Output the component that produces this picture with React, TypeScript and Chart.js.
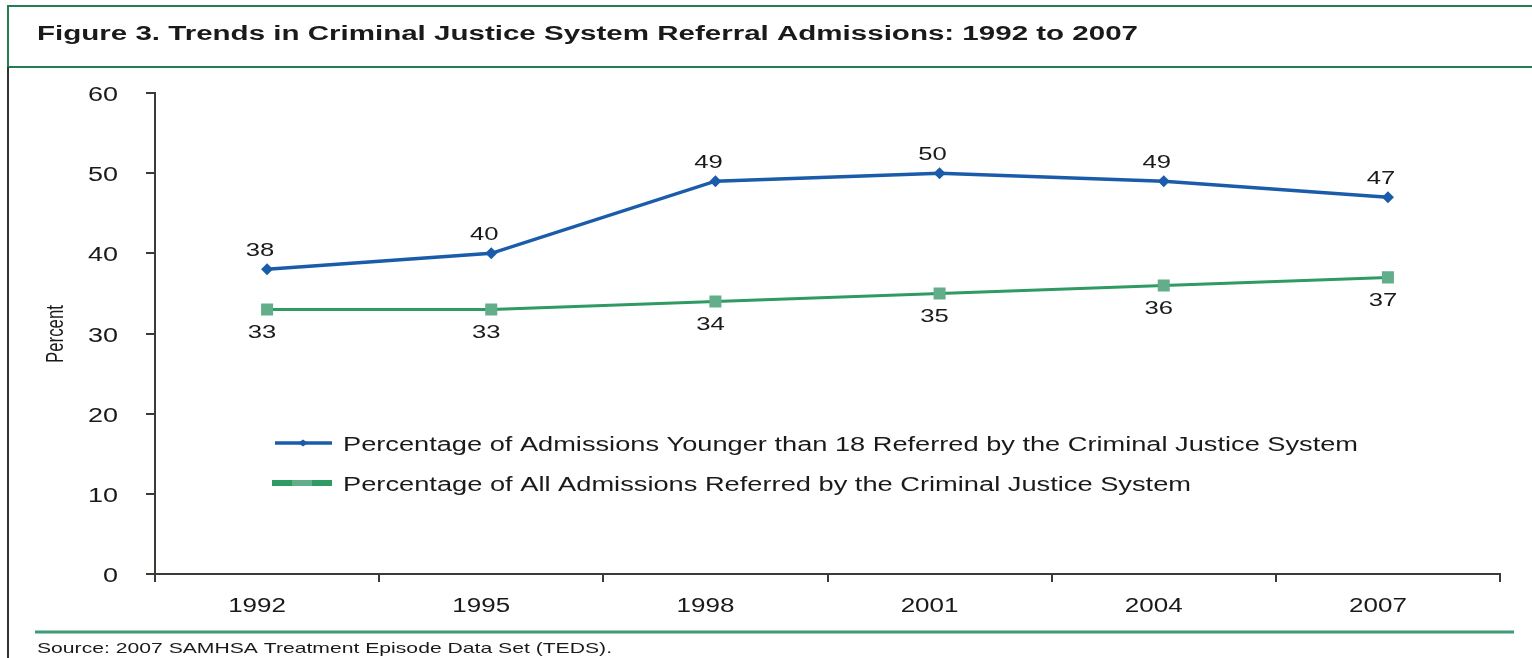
import React, { useEffect, useRef } from "react";
import { Chart, registerables } from "chart.js";

Chart.register(...registerables);

const categories = ["1992", "1995", "1998", "2001", "2004", "2007"];
const youngerValues = [38, 40, 49, 50, 49, 47];
const allValues = [33, 33, 34, 35, 36, 37];
const yTicks = [0, 10, 20, 30, 40, 50, 60];
const seriesNames = [
  "Percentage of Admissions Younger than 18 Referred by the Criminal Justice System",
  "Percentage of All Admissions Referred by the Criminal Justice System",
];
const titleText = "Figure 3. Trends in Criminal Justice System Referral Admissions: 1992 to 2007";
const sourceText = "Source: 2007 SAMHSA Treatment Episode Data Set (TEDS).";
const yAxisTitle = "Percent";

const BLUE = "#1a5ca9";
const GREEN = "#2f9a62";
const GREEN_LIGHT = "#62ad8a";
const FRAME_GREEN = "#237e52";
const TEXT = "#1a1a1a";
const AXIS = "#3a3a36";
const FONT = "'Liberation Sans', Arial, Helvetica, sans-serif";

function drawText(
  ctx: CanvasRenderingContext2D,
  text: string,
  x: number,
  y: number,
  font: string,
  align: CanvasTextAlign,
  sx: number,
  color = TEXT
) {
  ctx.save();
  ctx.font = font;
  ctx.fillStyle = color;
  ctx.textAlign = align;
  ctx.textBaseline = "alphabetic";
  ctx.translate(x, y);
  ctx.scale(sx, 1);
  ctx.fillText(text, 0, 0);
  ctx.restore();
}

function fitText(
  ctx: CanvasRenderingContext2D,
  text: string,
  x: number,
  y: number,
  font: string,
  width: number,
  color = TEXT
) {
  ctx.save();
  ctx.font = font;
  const w = ctx.measureText(text).width;
  ctx.restore();
  drawText(ctx, text, x, y, font, "left", width / w, color);
}

const decorPlugin = {
  id: "decor",
  afterDraw(chart: any) {
    const ctx: CanvasRenderingContext2D = chart.ctx;
    const xs = chart.scales.x;
    const ys = chart.scales.y;
    ctx.save();
    // frame
    ctx.lineWidth = 2;
    ctx.strokeStyle = FRAME_GREEN;
    ctx.beginPath();
    ctx.moveTo(8, 6);
    ctx.lineTo(1532, 6);
    ctx.moveTo(8, 67);
    ctx.lineTo(1532, 67);
    ctx.moveTo(8, 5);
    ctx.lineTo(8, 67);
    ctx.stroke();
    ctx.strokeStyle = "#333333";
    ctx.beginPath();
    ctx.moveTo(8, 67);
    ctx.lineTo(8, 658);
    ctx.stroke();
    ctx.strokeStyle = "#3f9a76";
    ctx.lineWidth = 3;
    ctx.beginPath();
    ctx.moveTo(35, 632);
    ctx.lineTo(1514, 632);
    ctx.stroke();

    // title & source
    fitText(ctx, titleText, 37, 40, `bold 20px ${FONT}`, 1101);
    fitText(ctx, sourceText, 37, 653, `15px ${FONT}`, 575);

    // y tick labels
    yTicks.forEach((v) => {
      const py = ys.getPixelForValue(v);
      drawText(ctx, String(v), 118, py + 8, `20px ${FONT}`, "right", 1.35);
    });
    // x tick labels
    categories.forEach((c, i) => {
      const px = xs.getPixelForValue(i);
      drawText(ctx, c, px - 10, 612, `20px ${FONT}`, "center", 1.3);
    });

    // y axis title
    ctx.save();
    ctx.font = `20px ${FONT}`;
    const pw = ctx.measureText(yAxisTitle).width;
    ctx.translate(63, 334);
    ctx.rotate(-Math.PI / 2);
    ctx.scale(58 / pw, 1.2);
    ctx.fillStyle = TEXT;
    ctx.textAlign = "center";
    ctx.textBaseline = "alphabetic";
    ctx.fillText(yAxisTitle, 0, 0);
    ctx.restore();

    // data labels
    const m0 = chart.getDatasetMeta(0);
    const m1 = chart.getDatasetMeta(1);
    m0.data.forEach((pt: any, i: number) => {
      drawText(ctx, String(youngerValues[i]), pt.x - 7, pt.y - 13, `19px ${FONT}`, "center", 1.35);
    });
    m1.data.forEach((pt: any, i: number) => {
      drawText(ctx, String(allValues[i]), pt.x - 5, pt.y + 29, `19px ${FONT}`, "center", 1.35);
    });

    // legend
    ctx.lineCap = "butt";
    ctx.strokeStyle = BLUE;
    ctx.lineWidth = 3.5;
    ctx.beginPath();
    ctx.moveTo(275, 443);
    ctx.lineTo(332, 443);
    ctx.stroke();
    ctx.fillStyle = BLUE;
    ctx.beginPath();
    ctx.moveTo(298, 443);
    ctx.lineTo(303, 439.5);
    ctx.lineTo(308, 443);
    ctx.lineTo(303, 446.5);
    ctx.closePath();
    ctx.fill();
    ctx.strokeStyle = GREEN;
    ctx.lineWidth = 6;
    ctx.beginPath();
    ctx.moveTo(272, 483);
    ctx.lineTo(332, 483);
    ctx.stroke();
    ctx.fillStyle = GREEN_LIGHT;
    ctx.fillRect(292, 480, 20, 6);
    fitText(ctx, seriesNames[0], 343, 451, `20px ${FONT}`, 1015);
    fitText(ctx, seriesNames[1], 343, 491, `20px ${FONT}`, 848);
    ctx.restore();
  },
};

export default function App() {
  const ref = useRef<HTMLCanvasElement>(null);
  useEffect(() => {
    if (!ref.current) return;
    const chart = new Chart(ref.current, {
      type: "line",
      data: {
        labels: categories,
        datasets: [
          {
            label: seriesNames[0],
            data: youngerValues,
            borderColor: BLUE,
            backgroundColor: BLUE,
            borderWidth: 3.5,
            pointStyle: "rectRot",
            pointRadius: 6,
            pointBorderWidth: 0,
            tension: 0,
          },
          {
            label: seriesNames[1],
            data: allValues,
            borderColor: GREEN,
            backgroundColor: GREEN_LIGHT,
            borderWidth: 3,
            pointStyle: "rect",
            pointRadius: 8.5,
            pointBorderWidth: 0,
            tension: 0,
          },
        ],
      },
      options: {
        animation: false,
        responsive: false,
        events: [],
        layout: { padding: { left: 0, top: 93, right: 32, bottom: 34 } },
        plugins: {
          legend: { display: false },
          title: { display: false },
          tooltip: { enabled: false },
        },
        scales: {
          x: {
            type: "category",
            offset: true,
            afterFit: (s: any) => {
              s.height = 50;
            },
            grid: {
              display: true,
              offset: true,
              drawOnChartArea: false,
              drawTicks: true,
              tickLength: 8,
              color: AXIS,
              lineWidth: 2,
            },
            border: { display: true, color: AXIS, width: 2 },
            ticks: { display: false },
          },
          y: {
            min: 0,
            max: 60,
            afterFit: (s: any) => {
              s.width = 155;
            },
            ticks: { display: false, stepSize: 10 },
            grid: {
              display: true,
              drawOnChartArea: false,
              drawTicks: true,
              tickLength: 9,
              color: AXIS,
              lineWidth: 2,
            },
            border: { display: true, color: AXIS, width: 2 },
          },
        },
      },
      plugins: [decorPlugin],
    } as any);
    return () => chart.destroy();
  }, []);
  return (
    <div style={{ position: "absolute", left: 0, top: 0, width: 1532, height: 658, background: "#fff" }}>
      <canvas ref={ref} width={1532} height={658} style={{ display: "block" }} />
    </div>
  );
}
